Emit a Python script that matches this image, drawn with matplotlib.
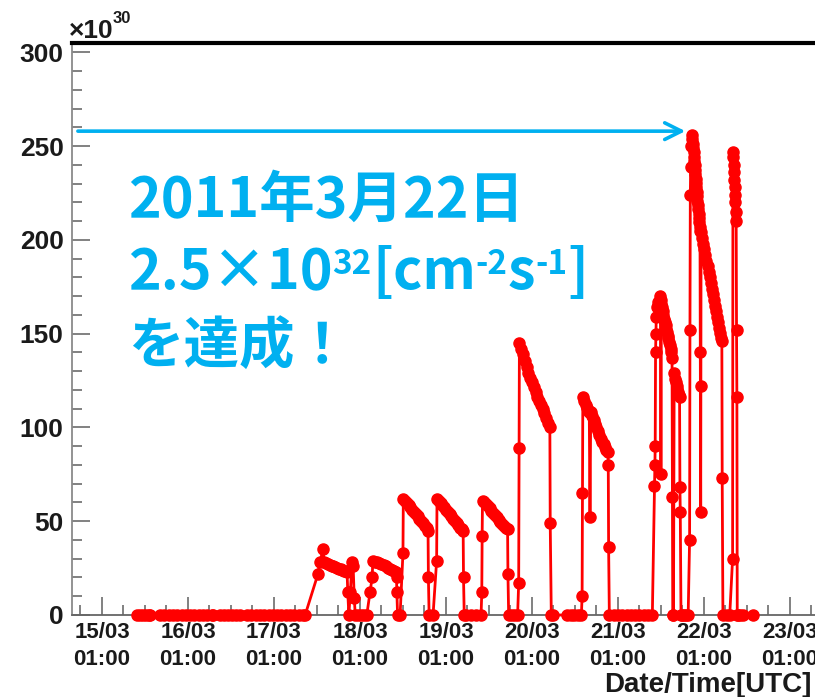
import matplotlib
matplotlib.use("Agg")
import matplotlib.pyplot as plt
from matplotlib.ticker import MultipleLocator
import numpy as np

# luminosity [1e30 cm^-2 s^-1] vs hours since 15/03 01:00 UTC
h0 = [9.8, 10.6, 11.4, 12.2, 13.0, 13.4, 16.2, 17.4, 18.6, 19.8, 21.0, 22.2, 23.4, 24.6,
      25.8, 27.0, 28.2, 29.4, 30.6, 31.0, 32.9, 34.0, 35.1, 36.2, 37.3, 38.5, 40.5, 41.7,
      42.9, 44.1, 45.3, 46.5, 47.7, 48.9, 50.1, 51.3, 52.5, 53.7, 54.9, 56.1, 56.7]
l0 = [0, 0, 0, 0, 0, 0, 0, 0, 0, 0, 0, 0, 0, 0,
      0, 0, 0, 0, 0, 0, 0, 0, 0, 0, 0, 0, 0, 0,
      0, 0, 0, 0, 0, 0, 0, 0, 0, 0, 0, 0, 0]

h1 = [60.3, 60.8, 61.7, 62.0, 62.6, 63.1, 63.6, 64.1, 64.6, 65.1, 65.6, 66.1, 66.6, 67.1,
      67.6, 68.1, 68.4, 68.6, 68.9, 69.3, 69.8, 70.1, 70.4, 70.7, 71.5, 72.3, 73.1, 73.9]
l1 = [22, 28, 35, 28, 27.5, 27.1, 26.7, 26.3, 25.9, 25.5, 25.1, 24.7, 24.3, 23.9,
      23.5, 23.2, 23, 12, 0, 12, 28, 26, 9, 0, 0, 0, 0, 0]

h2 = [74.8, 75.4, 75.6, 76.2, 76.8, 77.4, 78.0, 78.6, 79.2, 79.8, 80.4, 81.0, 81.6, 82.0,
      82.2, 82.3, 82.5, 83.2]
l2 = [12, 20, 29, 28.5, 28, 27.5, 27, 26.5, 26, 25.3, 24.7, 24, 23.5, 23,
      20, 12, 0, 0]

h3 = [84.0, 84.1, 84.6, 85.1, 85.6, 86.1, 86.6, 87.1, 87.6, 88.1, 88.6, 89.1, 89.6, 90.1,
      90.6, 91.0, 91.1, 91.3, 92.4]
l3 = [33, 62, 61, 59.8, 58.6, 57.4, 56.2, 55, 53.8, 52.6, 51.4, 50.2, 49, 47.6,
      46.2, 45, 20, 0, 0]

h4 = [93.4, 93.5, 94.0, 94.5, 95.0, 95.5, 96.0, 96.5, 97.0, 97.5, 98.0, 98.5, 99.0, 99.5,
      100.0, 100.5, 100.8, 100.9, 101.1, 101.6, 103.0, 104.5, 105.8]
l4 = [29, 62, 61, 59.8, 58.6, 57.4, 56.2, 55, 53.8, 52.6, 51.4, 50.2, 49, 47.8,
      46.6, 45.6, 45, 20, 0, 0, 0, 0, 0]

h5 = [106.0, 106.1, 106.2, 106.7, 107.2, 107.7, 108.2, 108.7, 109.2, 109.7, 110.2, 110.7,
      111.2, 111.7, 112.2, 112.7, 113.2, 113.3, 113.5, 114.4, 115.3, 116.0]
l5 = [12, 42, 61, 60, 59, 58, 56.8, 55.6, 54.4, 53.2, 52, 50.8,
      49.6, 48.6, 47.6, 46.6, 46, 22, 0, 0, 0, 0]

h6 = [116.3, 116.4, 116.5, 117.0, 117.5, 118.0, 118.5, 119.0, 119.5, 120.0, 120.5, 121.0,
      121.5, 122.0, 122.5, 123.0, 123.5, 124.0, 124.5, 125.0, 125.1, 125.4, 125.9, 129.8,
      130.8, 131.8, 132.8, 133.8]
l6 = [17, 89, 145, 142, 139, 135.5, 132, 129, 126.5, 124, 121.5, 119,
      116.5, 114, 112, 110, 107.5, 105, 102.5, 100, 49, 0, 0, 0,
      0, 0, 0, 0]

h7 = [134.0, 134.1, 134.2, 134.6, 135.0, 135.4, 135.8, 136.0, 136.2, 136.4, 136.8, 137.2,
      137.6, 138.0, 138.4, 138.8, 139.2, 139.6, 140.0, 140.4, 140.8, 141.2, 141.3, 141.4,
      141.6, 142.8, 144.0, 145.2, 146.4, 147.6, 148.8, 150.0, 151.2, 152.4, 153.6]
l7 = [10, 65, 116, 114, 112, 110.5, 109, 108.5, 52, 108, 106, 104,
      102, 100, 98, 96, 94, 92.5, 91, 89.5, 88, 87, 80, 36,
      0, 0, 0, 0, 0, 0, 0, 0, 0, 0, 0]

h8 = [154.2, 154.3, 154.4, 154.5, 154.6, 154.7, 154.9, 155.3, 155.7, 155.9, 156.0, 156.1,
      156.3, 156.5, 156.7, 156.9, 157.1, 157.3, 157.5, 157.7, 157.9, 158.1, 158.3, 158.5,
      158.7, 158.9, 159.1, 159.2, 159.3, 159.5, 159.7, 160.0, 160.2, 160.4, 160.6, 160.8,
      161.0, 161.2, 161.3, 161.4, 161.6, 161.8, 162.4, 163.0, 163.6]
l8 = [69, 80, 90, 140, 150, 159, 164, 167, 170, 168, 75, 166,
      164, 162, 160, 158, 156, 154.5, 152.5, 151, 149, 147.5, 145.5, 144,
      142, 140.5, 137, 63, 0, 0, 129, 126, 124, 122, 120.5, 119,
      117.5, 116, 68, 55, 0, 0, 0, 0, 0]

h9 = [164.0, 164.1, 164.2, 164.3, 164.5,
      164.7, 164.8, 164.9, 165.0, 165.1, 165.2, 165.3, 165.4, 165.5, 165.6, 165.7, 165.8,
      165.9, 166.0, 166.1, 166.2, 166.3, 166.4, 166.5, 166.6, 166.7, 166.8, 166.9,
      167.0, 167.05, 167.1,
      167.2, 167.5, 167.8, 168.1, 168.4, 168.7, 169.0, 169.3, 169.6, 169.9, 170.2, 170.5,
      170.8, 171.1, 171.4, 171.7, 172.0, 172.3, 172.6, 172.9, 173.0,
      173.1, 173.3, 174.4, 175.2]
l9 = [40, 152, 224, 239, 250,
      256, 253.7, 251.4, 249, 246.7, 244.4, 242, 239.7, 237.4, 235, 232.7, 230.4,
      228, 225.7, 223.4, 221, 218.7, 216.4, 214, 211.7, 209.4, 207, 205,
      140, 122, 55,
      204, 201, 198, 195, 192, 189, 186, 183, 180, 177, 174, 171,
      168, 165, 162, 159, 156, 153, 150.5, 147.5, 146,
      73, 0, 0, 0]

h10 = [176.0, 176.1, 176.2, 176.3, 176.4, 176.5, 176.6, 176.7, 176.8, 176.9, 177.0, 177.1,
       177.2, 177.3, 177.6, 178.2, 178.9, 181.7]
l10 = [30, 247, 244, 240, 236, 232, 228, 224, 220, 215, 210, 152,
       116, 0, 0, 0, 0, 0]

day_ticks = [0, 24, 48, 72, 96, 120, 144, 168, 192]
day_labels = ['15/03\n01:00', '16/03\n01:00', '17/03\n01:00', '18/03\n01:00', '19/03\n01:00',
              '20/03\n01:00', '21/03\n01:00', '22/03\n01:00', '23/03\n01:00']
y_ticks = [0, 50, 100, 150, 200, 250, 300]

peak_hour = 163.6
peak_lumi = 258

hours = np.concatenate([h0, h1, h2, h3, h4, h5, h6, h7, h8, h9, h10])
lumi = np.concatenate([l0, l1, l2, l3, l4, l5, l6, l7, l8, l9, l10])

W, H = 815, 697
fig = plt.figure(figsize=(W / 100, H / 100), dpi=100)
ax = fig.add_axes([72 / W, 82 / H, 743 / W, 572 / H])

ax.plot(hours, lumi, color='red', lw=2.0, marker='o', ms=8, mec='red', mfc='red',
        clip_on=False, zorder=3)

ax.set_xlim(-8.37, 199.0)
ax.set_ylim(0, 305)

ax.spines['right'].set_visible(False)
ax.spines['top'].set_color('black')
ax.spines['top'].set_linewidth(3)
ax.spines['left'].set_color('#8a8a8a')
ax.spines['left'].set_linewidth(1.3)
ax.spines['bottom'].set_color('#666666')
ax.spines['bottom'].set_linewidth(1.3)

ax.set_xticks(day_ticks, day_labels)
ax.set_yticks(y_ticks, [str(v) for v in y_ticks])
ax.xaxis.set_minor_locator(MultipleLocator(6))
ax.yaxis.set_minor_locator(MultipleLocator(10))
ax.tick_params(which='both', direction='in', color='#777777', width=1.3)
ax.tick_params(which='major', length=13)
ax.tick_params(which='minor', length=7)
ax.tick_params(axis='x', pad=5, labelsize=16, labelcolor='#1a1a1a')
ax.tick_params(axis='y', pad=6, labelsize=19, labelcolor='#1a1a1a')
for lab in ax.get_xticklabels() + ax.get_yticklabels():
    lab.set_fontweight('bold')
    lab.set_family('Liberation Sans')
for lab in ax.get_xticklabels():
    lab.set_linespacing(1.4)

fig.text(69 / W, 1 - 38 / H, '\u00d710', fontsize=19, fontweight='bold',
         family='Liberation Sans', color='#1a1a1a', va='baseline')
fig.text(113 / W, 1 - 23 / H, '30', fontsize=12, fontweight='bold',
         family='Liberation Sans', color='#1a1a1a', va='baseline')
fig.text(812 / W, 1 - 692 / H, 'Date/Time[UTC]', fontsize=20, fontweight='bold',
         family='Liberation Sans', color='#1a1a1a', ha='right', va='baseline')

cyan = '#00b0f0'
ax.annotate('', xy=(peak_hour, peak_lumi), xytext=(-7.5, peak_lumi),
            arrowprops=dict(arrowstyle='->', color=cyan, lw=2.6, mutation_scale=30),
            annotation_clip=False)

jp = ['Noto Sans CJK JP', 'DejaVu Sans']
big = 40
small = 24
fig.text(128 / W, 1 - 217 / H, '2011年3月22日', fontsize=big, fontweight='bold',
         family=jp, color=cyan, va='baseline')
fig.text(128 / W, 1 - 363 / H, 'を達成！', fontsize=big, fontweight='bold',
         family=jp, color=cyan, va='baseline')

# second line built piece by piece so the exponents sit like in the slide
pieces = [('2.5\u00d710', big, 0), ('32', small, 15), ('[cm', big, 0), ('-2', small, 15),
          ('s', big, 0), ('-1', small, 15), (']', big, 0)]
renderer = fig.canvas.get_renderer()
x_px = 128
base_px = 289
for txt, size, rise in pieces:
    t = fig.text(x_px / W, 1 - (base_px - rise) / H, txt, fontsize=size, fontweight='bold',
                 family=jp, color=cyan, va='baseline')
    bb = t.get_window_extent(renderer=renderer)
    x_px += bb.width

fig.savefig('out.png', dpi=100)
